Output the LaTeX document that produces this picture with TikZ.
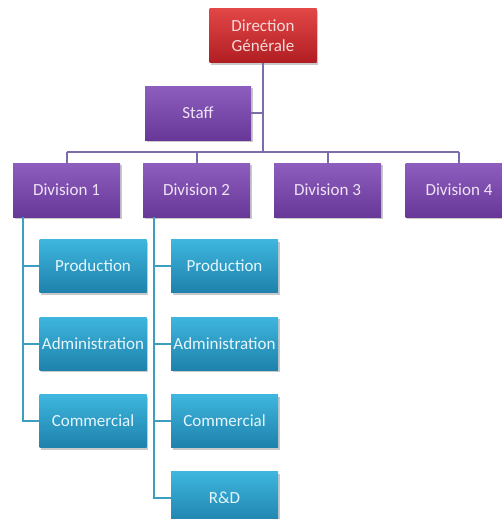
\documentclass[tikz,border=0pt]{standalone}
\usepackage{fontspec}
\setmainfont{Carlito}
\usetikzlibrary{shadows}
\definecolor{redtop}{HTML}{E24646}
\definecolor{redbot}{HTML}{B01E22}
\definecolor{purtop}{HTML}{8E5EBE}
\definecolor{purbot}{HTML}{683898}
\definecolor{teltop}{HTML}{3EB6DE}
\definecolor{telbot}{HTML}{1E82AC}
\definecolor{linepur}{HTML}{7E6CAA}
\definecolor{linetel}{HTML}{3E9EC2}
\definecolor{redtxt}{HTML}{F6DADA}
\definecolor{purtxt}{HTML}{EEE4F6}
\definecolor{teltxt}{HTML}{E6F6FC}
\tikzset{
  x=1pt, y=-1pt,
  box/.style={rectangle, minimum width=107pt, minimum height=54pt, inner sep=1pt,
    font=\fontsize{17}{20}\selectfont, align=center,
    drop shadow={shadow xshift=1.5pt, shadow yshift=-2pt, opacity=0.35, fill=black!60}},
  redbox/.style={box, top color=redtop, bottom color=redbot, text=redtxt},
  purbox/.style={box, top color=purtop, bottom color=purbot, text=purtxt},
  telbox/.style={box, minimum height=53pt, top color=teltop, bottom color=telbot, text=teltxt},
  toplink/.style={draw=linepur, line width=2pt},
  sublink/.style={draw=linetel, line width=2pt}
}
\begin{document}
\begin{tikzpicture}
\useasboundingbox[fill=white] (0,0) rectangle (501,519);
\coordinate (hub) at (263,152);
\coordinate (hl) at (66.5,152);
\coordinate (hr) at (459,152);
\coordinate (j2) at (196.5,152);
\coordinate (j3) at (327.5,152);
\coordinate (stj) at (263,113);
\coordinate (v1t) at (23,217);
\coordinate (v1b) at (23,421);
\coordinate (k1) at (23,266);
\coordinate (k2) at (23,343.5);
\coordinate (v2t) at (154,217);
\coordinate (v2b) at (154,498);
\coordinate (k3) at (154,266);
\coordinate (k4) at (154,343.5);
\coordinate (k5) at (154,421);
\node[redbox] (dg) at (263,36) {Direction\\Générale};
\node[purbox, minimum width=106pt] (staff) at (198,113) {Staff};
\node[purbox] (d1) at (66.5,190) {Division 1};
\node[purbox] (d2) at (196.5,190) {Division 2};
\node[purbox] (d3) at (327.5,190) {Division 3};
\node[purbox] (d4) at (459,190) {Division 4};
\node[telbox] (p1) at (93,266) {Production};
\node[telbox] (a1) at (93,343.5) {Administration};
\node[telbox] (c1) at (93,421) {Commercial};
\node[telbox] (p2) at (224.5,266) {Production};
\node[telbox] (a2) at (224.5,343.5) {Administration};
\node[telbox] (c2) at (224.5,421) {Commercial};
\node[telbox] (r2) at (224.5,498) {R\&D};
\path[toplink] (dg.south) -- (hub);
\path[toplink] (staff.east) -- (stj);
\path[toplink] (hl) -- (hr);
\path[toplink] (hl) -- (d1.north);
\path[toplink] (j2) -- (d2.north);
\path[toplink] (j3) -- (d3.north);
\path[toplink] (hr) -- (d4.north);
\path[sublink] (v1t) -- (v1b) -- (c1.west);
\path[sublink] (k1) -- (p1.west);
\path[sublink] (k2) -- (a1.west);
\path[sublink] (v2t) -- (v2b) -- (r2.west);
\path[sublink] (k3) -- (p2.west);
\path[sublink] (k4) -- (a2.west);
\path[sublink] (k5) -- (c2.west);
\end{tikzpicture}
\end{document}
